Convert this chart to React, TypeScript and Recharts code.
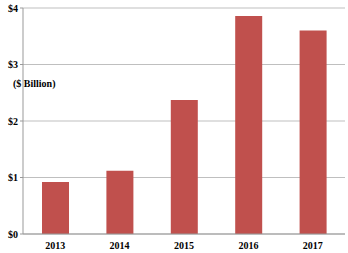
import { BarChart, Bar, XAxis, YAxis, CartesianGrid } from "recharts";

const years = ["2013", "2014", "2015", "2016", "2017"];
const revenue = [0.92, 1.12, 2.37, 3.86, 3.6];
const yTicks = [0, 1, 2, 3, 4];

const data = years.map((year, i) => ({ year, revenue: revenue[i] }));

const font = { fontSize: 10, fontWeight: 700, fill: "#000", fontFamily: "Liberation Serif, Times New Roman, serif" };

export default function App() {
  return (
    <div style={{ position: "fixed", left: 0, top: 0, width: 348, height: 253, background: "#fff" }}>
      <BarChart width={348} height={253} data={data} margin={{ top: 8, right: 3, bottom: 0, left: 0 }}>
        <CartesianGrid vertical={false} stroke="#bfbfbf" />
        <XAxis
          dataKey="year"
          height={19}
          tick={font}
          tickLine={false}
          axisLine={{ stroke: "#999" }}
        />
        <YAxis
          width={23}
          domain={[0, 4]}
          ticks={yTicks}
          tick={font}
          tickSize={3}
          tickMargin={2}
          tickLine={{ stroke: "#999" }}
          axisLine={{ stroke: "#999" }}
          tickFormatter={(v: number) => `$${v}`}
        />
        <Bar dataKey="revenue" fill="#C0504D" barSize={27} isAnimationActive={false} />
      </BarChart>
      <span
        style={{
          position: "absolute",
          left: 13,
          top: 78,
          fontSize: 10,
          fontWeight: 700,
          fontFamily: "Liberation Serif, Times New Roman, serif",
          whiteSpace: "nowrap",
        }}
      >
        ($ Billion)
      </span>
    </div>
  );
}
